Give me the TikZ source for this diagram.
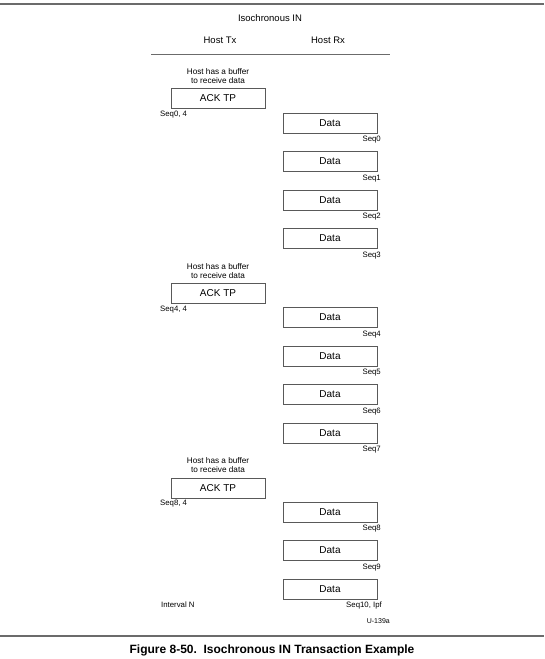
\documentclass[tikz,border=0pt]{standalone}
\usepackage{fontspec}
\setmainfont{Liberation Sans}
\definecolor{BoxColor}{rgb}{0.35,0.35,0.35}
\definecolor{RuleColor}{rgb}{0.42,0.42,0.42}
\tikzstyle{base}=[rectangle,
                    draw=BoxColor,
                    line width=0.8pt,
                    minimum width=94pt,
                    minimum height=20pt,
                    inner sep=0pt,
                    text centered]
\tikzstyle{ack}=[base, font=\fontsize{10}{10}\selectfont]
\tikzstyle{data}=[base, font=\fontsize{10}{10}\selectfont]
\tikzstyle{seq}=[anchor=east, inner sep=0pt, font=\fontsize{7.8}{8}\selectfont]
\tikzstyle{seqack}=[anchor=west, inner sep=0pt, font=\fontsize{7.8}{8}\selectfont]
\tikzstyle{note}=[align=center, inner sep=0pt, font=\fontsize{8.2}{9}\selectfont]
\tikzstyle{head}=[inner sep=0pt, font=\fontsize{9.5}{10}\selectfont]

\begin{document}
\begin{tikzpicture}[x=1pt, y=-1pt]
    \useasboundingbox (0,0) rectangle (544,659);

    % header
    \draw[RuleColor, line width=1.4pt] (0,4) -- (544,4);
    \node at (270,  18) (title)  [head] {Isochronous IN};
    \node at (220,  40) (host_tx) [head] {Host Tx};
    \node at (328,  40) (host_rx) [head] {Host Rx};
    \draw[RuleColor, line width=0.8pt] (151,54) -- (390,54);

    % interval 1
    \node at (218,  76.5) (note_a)   [note]     {Host has a buffer\\to receive data};
    \node at (218,  98.5) (ack_a)    [ack]      {ACK TP};
    \node at (160, 114.5) (ackseq_a) [seqack]   {Seq0, 4};
    \node at (330, 123.0) (data_0)   [data]     {Data};
    \node at (381, 140.0) (seq_0)    [seq]      {Seq0};
    \node at (330, 161.5) (data_1)   [data]     {Data};
    \node at (381, 178.5) (seq_1)    [seq]      {Seq1};
    \node at (330, 200.0) (data_2)   [data]     {Data};
    \node at (381, 217.0) (seq_2)    [seq]      {Seq2};
    \node at (330, 238.5) (data_3)   [data]     {Data};
    \node at (381, 255.5) (seq_3)    [seq]      {Seq3};

    % interval 2
    \node at (218, 271.0) (note_b)   [note]     {Host has a buffer\\to receive data};
    \node at (218, 293.5) (ack_b)    [ack]      {ACK TP};
    \node at (160, 309.5) (ackseq_b) [seqack]   {Seq4, 4};
    \node at (330, 317.5) (data_4)   [data]     {Data};
    \node at (381, 334.5) (seq_4)    [seq]      {Seq4};
    \node at (330, 356.0) (data_5)   [data]     {Data};
    \node at (381, 373.0) (seq_5)    [seq]      {Seq5};
    \node at (330, 394.5) (data_6)   [data]     {Data};
    \node at (381, 411.5) (seq_6)    [seq]      {Seq6};
    \node at (330, 433.0) (data_7)   [data]     {Data};
    \node at (381, 450.0) (seq_7)    [seq]      {Seq7};

    % interval 3
    \node at (218, 465.5) (note_c)   [note]     {Host has a buffer\\to receive data};
    \node at (218, 488.0) (ack_c)    [ack]      {ACK TP};
    \node at (160, 504.0) (ackseq_c) [seqack]   {Seq8, 4};
    \node at (330, 512.0) (data_8)   [data]     {Data};
    \node at (381, 529.0) (seq_8)    [seq]      {Seq8};
    \node at (330, 550.5) (data_9)   [data]     {Data};
    \node at (381, 567.5) (seq_9)    [seq]      {Seq9};
    \node at (330, 589.0) (data_10)  [data]     {Data};
    \node at (382, 605.0) (seq_10)   [seq]      {Seq10, Ipf};
    \node at (161, 605.0) (interval) [seqack]   {Interval N};
    \node at (390, 621.5) (fig_id)   [seq, font=\fontsize{7}{7}\selectfont] {U-139a};

    % caption
    \draw[RuleColor, line width=1.4pt] (0,636) -- (544,636);
    \node at (272, 650) (caption) [inner sep=0pt, font=\bfseries\fontsize{12}{12}\selectfont]
        {Figure 8-50.\ \ Isochronous IN Transaction Example};
\end{tikzpicture}
\end{document}
